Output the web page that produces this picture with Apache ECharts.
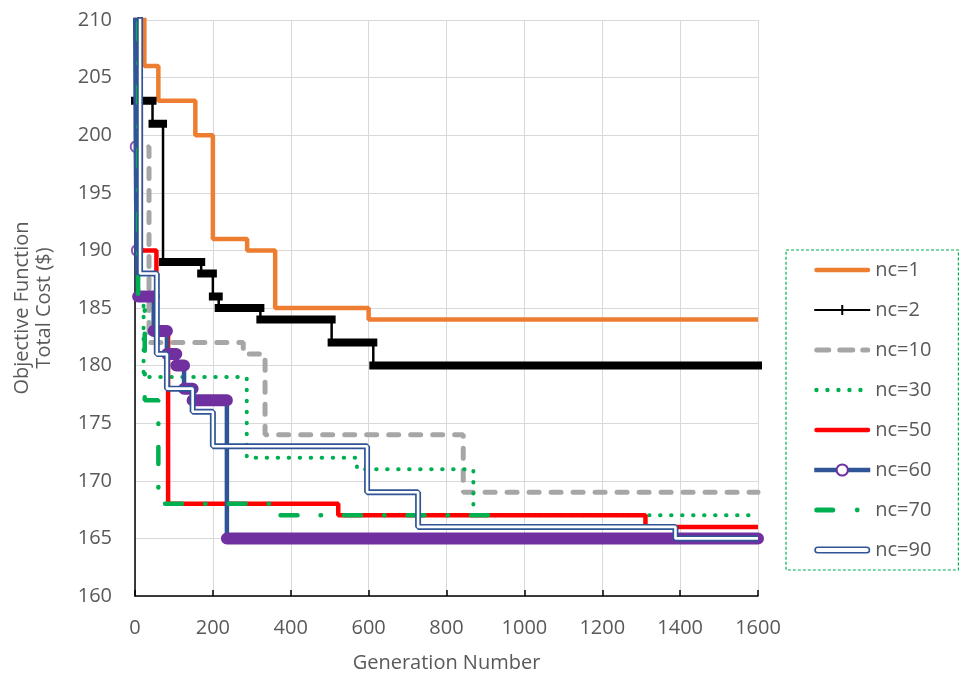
<!DOCTYPE html>
<html><head><meta charset="utf-8">
<script src="https://cdn.jsdelivr.net/npm/echarts@6/dist/echarts.min.js"></script>
<style>html,body{margin:0;padding:0;background:#fff}#chart{width:960px;height:678px}</style>
</head><body><div id="chart"></div>
<script>
// ---- data (generation at which the best cost changes, cost held until next change) ----
const nc1Gen  = [0, 24, 60, 155, 200, 288, 360, 600, 1600];
const nc1Cost = [215, 206, 203, 200, 191, 190, 185, 184, 184];
const nc2Gen  = [0, 45, 72, 170, 200, 215, 322, 505, 612, 1600];
const nc2Cost = [203, 201, 189, 188, 186, 185, 184, 182, 180, 180];
const nc10Gen  = [0, 12, 36, 278, 334, 843, 1600];
const nc10Cost = [215, 199, 182, 181, 174, 169, 169];
const nc30Gen  = [0, 8, 22, 287, 570, 869, 1600];
const nc30Cost = [215, 186, 179, 172, 171, 167, 167];
const nc50Gen  = [0, 5, 15, 55, 85, 522, 1311, 1600];
const nc50Cost = [215, 203, 190, 183, 168, 167, 166, 166];
const nc60Gen  = [0, 2, 4, 8, 48, 82, 106, 126, 148, 236, 1600];
const nc60Cost = [215, 199, 190, 186, 183, 181, 180, 178, 177, 165, 165];
const nc70Gen  = [0, 8, 25, 60, 373, 933, 1388, 1600];
const nc70Cost = [215, 186, 177, 168, 167, 166, 165, 165];
const nc90Gen  = [0, 13, 56, 82, 148, 200, 596, 727, 1388, 1600];
const nc90Cost = [215, 188, 181, 178, 176, 173, 169, 166, 165, 165];
const legendNames = ['nc=1', 'nc=2', 'nc=10', 'nc=30', 'nc=50', 'nc=60', 'nc=70', 'nc=90'];

const FONT = 'Open Sans';
const TXT = '#595959';
const C = {orange:'#ED7D31', black:'#000000', grey:'#A6A6A6', green:'#00B050', red:'#FF0000', blue:'#2F5597', purple:'#7030A0'};

function pairs(g, c) { return g.map((x, i) => [x, c[i]]); }
// horizontal plateaus (used for the dense-marker bands)
function plateaus(g, c, minLen) {
  const out = [];
  for (let i = 0; i < g.length - 1; i++) {
    if (g[i + 1] - g[i] >= minLen && c[i] <= 210) {
      out.push([g[i], c[i]], [g[i + 1], c[i]], [g[i + 1], '-']);
    }
  }
  return out;
}
function shortPoints(g, c, maxLen) {
  const out = [];
  for (let i = 0; i < g.length - 1; i++) {
    if (g[i + 1] - g[i] < maxLen && c[i] <= 210) out.push([(g[i] + g[i + 1]) / 2, c[i]]);
  }
  return out;
}

// legend icon paths in a 56 x 14 box
const F = 'M0,0L0,0M56,14L56,14';
function bar(x1, x2, cy, h) { const r = h / 2;
  return `M${x1+r},${cy-r}H${x2-r}A${r},${r},0,0,1,${x2-r},${cy+r}H${x1+r}A${r},${r},0,0,1,${x1+r},${cy-r}Z`; }
function hole(x1, x2, cy, h) { const r = h / 2;
  return `M${x1+r},${cy-r}A${r},${r},0,0,0,${x1+r},${cy+r}H${x2-r}A${r},${r},0,0,0,${x2-r},${cy-r}Z`; }
function dot(cx, cy, r) { return `M${cx-r},${cy}A${r},${r},0,1,0,${cx+r},${cy}A${r},${r},0,1,0,${cx-r},${cy}Z`; }

const icons = {
  'nc=1': 'path://' + F + bar(0, 56, 7, 4.5),
  'nc=2': 'path://' + F + 'M0,6H56V8H0Z' + 'M27,2H29V12H27Z',
  'nc=10': 'path://' + F + bar(0, 17, 7, 5) + bar(23, 41, 7, 5) + bar(46, 56, 7, 5),
  'nc=30': 'path://' + F + dot(2.2, 7, 2.2) + dot(13.2, 7, 2.2) + dot(24.2, 7, 2.2) + dot(35.2, 7, 2.2) + dot(46.2, 7, 2.2),
  'nc=50': 'path://' + F + bar(0, 56, 7, 4.5),
  'nc=70': 'path://' + F + bar(0, 21, 7, 5) + dot(43, 7, 2.4),
  'nc=90': 'path://' + F + bar(0, 56, 7, 7) + hole(1.6, 54.4, 7, 3.8)
};
const iconColor = {'nc=1':C.orange,'nc=2':C.black,'nc=10':C.grey,'nc=30':C.green,'nc=50':C.red,'nc=70':C.green,'nc=90':C.blue};

const legendData = legendNames.map(n => n === 'nc=60'
  ? {name: n, lineStyle: {width: 4.5, color: C.blue}, itemStyle: {color: C.purple}}
  : {name: n, icon: icons[n], itemStyle: {color: iconColor[n], borderWidth: 0}});

function stepSeries(name, g, c, ls, extra) {
  return Object.assign({
    name: name, type: 'line', step: 'end', data: pairs(g, c), symbol: 'none',
    lineStyle: ls, itemStyle: {color: ls.color}, emphasis: {disabled: true}, silent: true
  }, extra || {});
}

const series = [
  stepSeries('nc=1', nc1Gen, nc1Cost, {color: C.orange, width: 4.5}),
  stepSeries('nc=2', nc2Gen, nc2Cost, {color: C.black, width: 2.5}),
  {name: 'nc=2 markers', type: 'line', data: plateaus(nc2Gen, nc2Cost, 5), symbol: 'none', clip: false,
   lineStyle: {color: C.black, width: 8, cap: 'square'}, silent: true, emphasis: {disabled: true}},
  stepSeries('nc=10', nc10Gen, nc10Cost, {color: C.grey, width: 5, type: [10, 12], cap: 'round'}),
  stepSeries('nc=30', nc30Gen, nc30Cost, {color: C.green, width: 4, type: [0.5, 10.5], cap: 'round'}),
  stepSeries('nc=50', nc50Gen, nc50Cost, {color: C.red, width: 4.5}),
  stepSeries('nc=60', nc60Gen, nc60Cost, {color: C.blue, width: 4.5},
     {symbol: 'emptyCircle', showSymbol: false, itemStyle: {color: C.purple}}),
  {name: 'nc=60 markers', type: 'line', data: plateaus(nc60Gen, nc60Cost, 10), symbol: 'none', clip: false,
   lineStyle: {color: C.purple, width: 12, cap: 'round'}, silent: true, emphasis: {disabled: true}},
  {name: 'nc=60 points', type: 'scatter', data: shortPoints(nc60Gen, nc60Cost, 10), symbol: 'circle', symbolSize: 11,
   itemStyle: {color: 'rgba(0,0,0,0)', borderColor: C.purple, borderWidth: 2}, silent: true},
  stepSeries('nc=70', nc70Gen, nc70Cost, {color: C.green, width: 4.5, type: [17, 23, 0.5, 23], cap: 'round'}),
  stepSeries('nc=90', nc90Gen, nc90Cost, {color: C.blue, width: 6}),
  stepSeries('nc=90 inner', nc90Gen, nc90Cost, {color: '#FFFFFF', width: 2.6})
];

const chart = echarts.init(document.getElementById('chart'), null, {renderer: 'canvas'});
chart.setOption({
  animation: false,
  backgroundColor: '#fff',
  textStyle: {fontFamily: FONT},
  grid: {left: 135, right: 202, top: 20, bottom: 82, containLabel: false, outerBoundsMode: 'none'},
  legend: {
    data: legendData, orient: 'vertical', left: 786, top: 250,
    padding: [10, 27, 10, 26], itemGap: 20, itemWidth: 56, itemHeight: 14,
    borderColor: C.green, borderWidth: 1.2, borderType: [3, 2],
    textStyle: {fontSize: 20, color: TXT, fontFamily: FONT},
    selectedMode: false
  },
  xAxis: {
    type: 'value', min: 0, max: 1600, interval: 200,
    name: 'Generation Number', nameLocation: 'middle', nameGap: 57,
    nameTextStyle: {fontSize: 20, color: TXT, fontFamily: FONT},
    axisLine: {show: true, lineStyle: {color: '#000', width: 1.5}},
    axisTick: {show: true, inside: true, length: 6, lineStyle: {color: '#000', width: 1.5}},
    axisLabel: {fontSize: 20, color: TXT, margin: 22, fontFamily: FONT, formatter: v => String(v)},
    splitLine: {show: true, lineStyle: {color: '#D9D9D9', width: 1}}
  },
  yAxis: {
    type: 'value', min: 160, max: 210, interval: 5,
    name: 'Objective Function\nTotal Cost ($)', nameLocation: 'middle', nameGap: 80,
    nameTextStyle: {fontSize: 20, color: TXT, fontFamily: FONT, lineHeight: 22},
    axisLine: {show: true, lineStyle: {color: '#000', width: 1.5}},
    axisTick: {show: false},
    axisLabel: {fontSize: 20, color: TXT, margin: 23, fontFamily: FONT, formatter: v => String(v)},
    splitLine: {show: true, lineStyle: {color: '#D9D9D9', width: 1}}
  },
  series: series
});
</script></body></html>
